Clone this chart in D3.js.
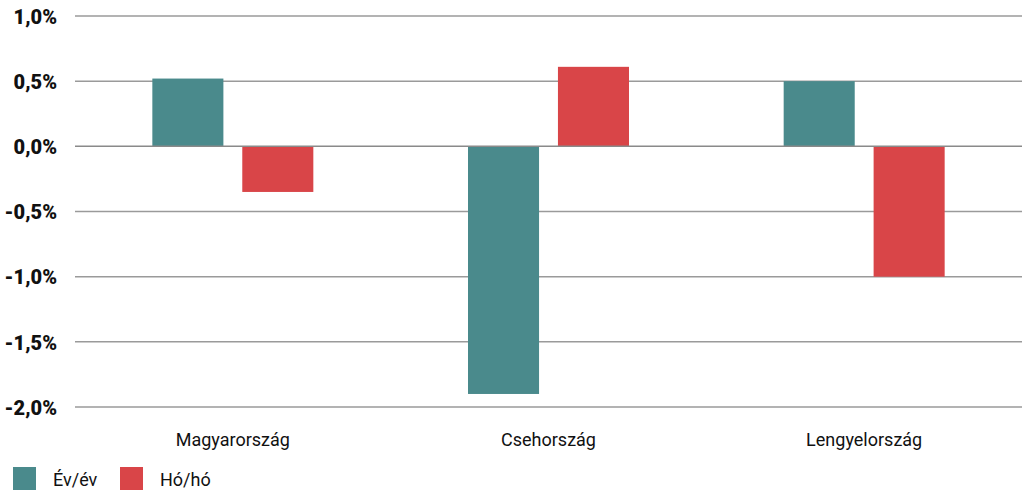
<!DOCTYPE html>
<html><head><meta charset="utf-8">
<script src="https://cdn.jsdelivr.net/npm/d3@7/dist/d3.min.js"></script>
<style>body{margin:0;background:#fff}svg{display:block;font-family:Roboto,sans-serif}</style>
</head><body><svg id="c" width="1024" height="498"></svg>
<script>
const categories = ["Magyarország", "Csehország", "Lengyelország"];
const seriesNames = ["Év/év", "Hó/hó"];
const evEv = [0.52, -1.90, 0.50];
const hoHo = [-0.35, 0.61, -1.00];
const yTicks = [1.0, 0.5, 0.0, -0.5, -1.0, -1.5, -2.0];
const colors = ["#4a8a8c", "#d94548"];

(function () {
const svg = d3.select("#c");
const pL = 75, pR = 1022, pT = 16, pB = 407;
const y = d3.scaleLinear().domain([-2, 1]).range([pB, pT]);
const x0 = d3.scaleBand().domain(categories).range([pL, pR]).paddingInner(0.49).paddingOuter(0.245);
const x1 = d3.scaleBand().domain(seriesNames).range([0, x0.bandwidth()]).paddingInner(0.21);
const fmt = v => d3.format(".1f")(v).replace(".", ",").replace("−", "-") + "%";

const grid = svg.append("g");
grid.selectAll("line").data(yTicks.filter(t => t !== 0)).join("line")
  .attr("x1", pL).attr("x2", pR)
  .attr("y1", d => y(d)).attr("y2", d => y(d))
  .attr("stroke", "#9a9a9a").attr("stroke-width", 1.5);

const data = categories.map((c, i) => ({cat: c, vals: [evEv[i], hoHo[i]]}));
const g = svg.append("g");
data.forEach(d => {
  d.vals.forEach((v, j) => {
    g.append("rect")
      .attr("x", x0(d.cat) + x1(seriesNames[j]))
      .attr("width", x1.bandwidth())
      .attr("y", y(Math.max(0, v)))
      .attr("height", Math.abs(y(v) - y(0)))
      .attr("fill", colors[j]);
  });
});

svg.append("line").attr("x1", pL).attr("x2", pR)
  .attr("y1", y(0)).attr("y2", y(0))
  .attr("stroke", "#8a8a8a").attr("stroke-width", 1.5);

const yAxis = d3.axisLeft(y).tickValues(yTicks).tickFormat(fmt).tickSize(0).tickPadding(0);
const ya = svg.append("g").attr("transform", "translate(57,0)").call(yAxis);
ya.select(".domain").remove();
ya.selectAll("text").attr("font-family", "Roboto, sans-serif").attr("font-size", 20)
  .attr("font-weight", 900).attr("fill", "#111").attr("dy", "0.36em");

const xAxis = d3.axisBottom(x0).tickSize(0).tickPadding(0);
const xa = svg.append("g").attr("transform", `translate(0,${pB + 26})`).call(xAxis);
xa.select(".domain").remove();
xa.selectAll("text").attr("font-family", "Roboto, sans-serif").attr("font-size", 18)
  .attr("fill", "#111").attr("dy", "0.71em");

const lg = svg.append("g").attr("transform", "translate(13,467)");
const legendX = [0, 107];
seriesNames.forEach((s, i) => {
  lg.append("rect").attr("x", legendX[i]).attr("y", 0).attr("width", 23).attr("height", 23).attr("fill", colors[i]);
  lg.append("text").attr("x", legendX[i] + 40).attr("y", 19).text(s)
    .attr("font-size", 18).attr("fill", "#111");
});
})();
</script></body></html>
